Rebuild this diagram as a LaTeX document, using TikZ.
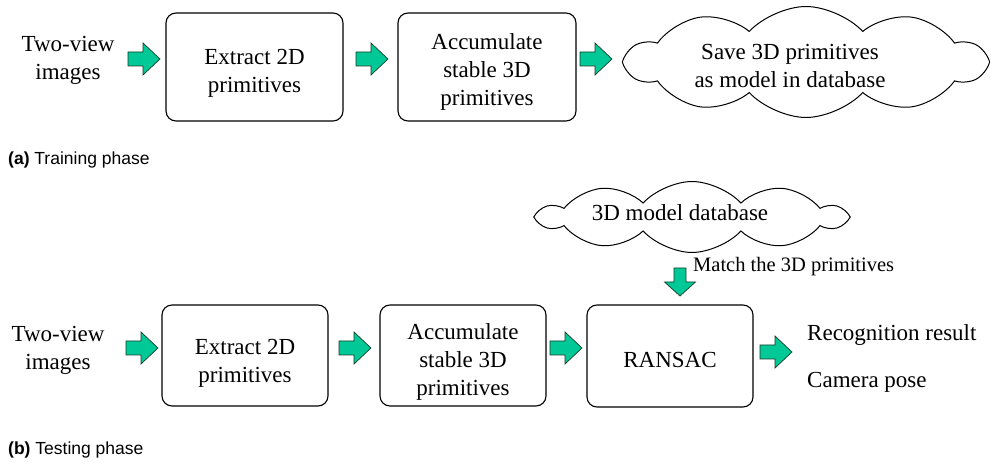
\documentclass[tikz,border=0pt]{standalone}
\usepackage{fontspec}
\setmainfont{Liberation Serif}
\newfontfamily\capfont{Liberation Sans}
\usetikzlibrary{shapes.symbols,calc}
\definecolor{arrowgreen}{RGB}{0,200,150}
\definecolor{arrowline}{RGB}{20,60,40}
\tikzset{
  mainfont/.style={font=\rmfamily\fontsize{23}{28}\selectfont},
  stepbox/.style={draw, line width=1.1pt, rounded corners=10pt, align=center, mainfont, inner sep=0pt},
  plaintext/.style={align=center, mainfont, inner sep=0pt},
  cloudbox/.style={draw, line width=1pt, cloud, cloud ignores aspect, inner sep=0pt},
  captext/.style={anchor=west, inner sep=0pt, font=\capfont\fontsize{17.5}{20}\selectfont},
  blockarrowstyle/.style={draw=arrowline, line width=0.7pt, fill=arrowgreen, line join=miter},
  rarrow/.pic={\draw[blockarrowstyle] (-16,-7) -- (-1,-7) -- (-1,-16) -- (16,0) -- (-1,16) -- (-1,7) -- (-16,7) -- cycle;},
  darrow/.pic={\draw[blockarrowstyle] (-6,-14) -- (-6,0) -- (-15.5,0) -- (0,14) -- (15.5,0) -- (6,0) -- (6,-14) -- cycle;}
}
\begin{document}
\begin{tikzpicture}[x=1pt,y=-1pt]
\useasboundingbox (0,0) rectangle (991,462);
% ---------- (a) training ----------
\node[plaintext] (tin) at (68,60) {Two-view\\images};
\pic (ta1) at (144,59) {rarrow};
\node[stepbox, minimum width=177pt, minimum height=108pt] (tb1) at (254.5,67) {};
\node[plaintext] (tb1t) at (254.5,73) {Extract 2D\\primitives};
\pic (ta2) at (372,59) {rarrow};
\node[stepbox, minimum width=178pt, minimum height=108pt] (tb2) at (487,67) {};
\node[plaintext] (tb2t) at (487,72) {Accumulate\\stable 3D\\primitives};
\pic (ta3) at (596,59) {rarrow};
\node[cloudbox, cloud puffs=10, cloud puff arc=95, minimum width=358pt, minimum height=111pt] (tc) at (806,62) {};
\node[plaintext] (tct) at (790,66) {Save 3D primitives\\as model in database};
\node[captext] (capa) at (8,160) {\textbf{(a)} Training phase};
% ---------- (b) testing ----------
\node[cloudbox, cloud puffs=10, cloud puff arc=95, minimum width=305pt, minimum height=71pt] (bc) at (692,217) {};
\node[plaintext] (bct) at (680,213) {3D model database};
\pic (bda) at (680,282) {darrow};
\node[anchor=west, inner sep=0pt, font=\rmfamily\fontsize{20.5}{24}\selectfont] (match) at (693,267) {Match the 3D primitives};
\node[plaintext] (bin) at (58,350) {Two-view\\images};
\pic (ba1) at (142,348) {rarrow};
\node[stepbox, minimum width=166pt, minimum height=101pt] (bb1) at (245,355.5) {};
\node[plaintext] (bb1t) at (245,363) {Extract 2D\\primitives};
\pic (ba2) at (355,348) {rarrow};
\node[stepbox, minimum width=166pt, minimum height=101pt] (bb2) at (463,355.5) {};
\node[plaintext] (bb2t) at (463,362) {Accumulate\\stable 3D\\primitives};
\pic (ba3) at (566,348) {rarrow};
\node[stepbox, minimum width=166pt, minimum height=102pt] (bb3) at (670,356) {};
\node[plaintext] (bb3t) at (670,360) {RANSAC};
\pic (ba4) at (776,352) {rarrow};
\node[anchor=west, inner sep=0pt, mainfont] (res) at (807,335) {Recognition result};
\node[anchor=west, inner sep=0pt, mainfont] (pose) at (807,382) {Camera pose};
\node[captext] (capb) at (8,450) {\textbf{(b)} Testing phase};
\end{tikzpicture}
\end{document}
